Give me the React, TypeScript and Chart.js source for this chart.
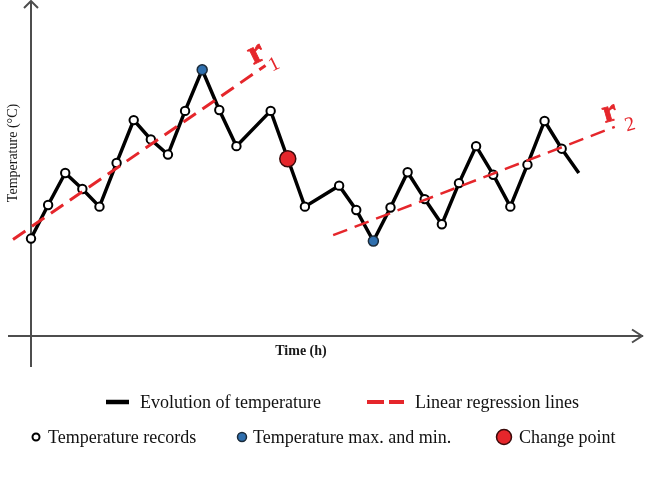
import React, { useEffect, useRef } from "react";
import Chart from "chart.js/auto";

// Hourly temperature record (time in h, temperature in arbitrary °C units)
const times = [0, 1, 2, 3, 4, 5, 6, 7, 8, 9, 10, 11, 12, 14, 15, 16, 18, 19, 20, 21, 22, 23, 24, 25, 26, 27, 28, 29, 30, 31, 32];
const temps = [5.8, 7.8, 9.7, 8.75, 7.7, 10.3, 12.85, 11.7, 10.8, 13.4, 15.85, 13.45, 11.3, 13.4, 10.55, 7.7, 8.95, 7.5, 5.65, 7.65, 9.75, 8.15, 6.65, 9.1, 11.3, 9.6, 7.7, 10.2, 12.8, 11.15, 9.7];

// Indices into the record for highlighted points
const extremaIdx = [10, 18];
const changeIdx = [14];
const unmarkedIdx = [30];

// Regression line end points [time, temperature]
const r1Times = [-1.05, 13.7];
const r1Temps = [5.75, 16.1];
const r2Times = [17.65, 34.1];
const r2Temps = [6.0, 12.45];

const regressionLabels = ["1", "2"];

const legendRow1 = ["Evolution of temperature", "Linear regression lines"];
const legendRow2 = ["Temperature records", "Temperature max. and min.", "Change point"];

const RED = "#e5262b";
const BLUE = "#2f6fae";
const AXIS = "#4d4d4d";
const SERIF = "'Liberation Serif', 'Times New Roman', serif";

const decorations = {
  id: "decorations",
  beforeDatasetsDraw(chart: any) {
    const ctx = chart.ctx;
    const xs = chart.scales.x;
    const ys = chart.scales.y;
    const x0 = xs.getPixelForValue(0);
    const y0 = ys.getPixelForValue(0);
    const xEnd = xs.right;
    const yTop = ys.top;
    ctx.save();
    ctx.strokeStyle = AXIS;
    ctx.lineWidth = 2;
    ctx.lineCap = "butt";
    // vertical axis
    ctx.beginPath();
    ctx.moveTo(x0, y0 + 31);
    ctx.lineTo(x0, yTop + 1);
    ctx.stroke();
    ctx.beginPath();
    ctx.moveTo(x0 - 7, yTop + 8);
    ctx.lineTo(x0, yTop + 1);
    ctx.lineTo(x0 + 7, yTop + 8);
    ctx.stroke();
    // horizontal axis
    ctx.beginPath();
    ctx.moveTo(x0 - 23, y0);
    ctx.lineTo(xEnd, y0);
    ctx.stroke();
    ctx.beginPath();
    ctx.moveTo(xEnd - 11, y0 - 6.5);
    ctx.lineTo(xEnd - 1, y0);
    ctx.lineTo(xEnd - 11, y0 + 6.5);
    ctx.stroke();

    // axis titles
    ctx.fillStyle = "#1a1a1a";
    ctx.textAlign = "center";
    ctx.textBaseline = "middle";
    ctx.font = `bold 14px ${SERIF}`;
    ctx.fillText("Time (h)", 301, y0 + 15);
    ctx.save();
    ctx.translate(13, 153);
    ctx.rotate(-Math.PI / 2);
    ctx.font = `14px ${SERIF}`;
    ctx.fillText("Temperature (°C)", 0, 0);
    ctx.restore();
    ctx.restore();
  },
  afterDatasetsDraw(chart: any) {
    const ctx = chart.ctx;
    const xs = chart.scales.x;
    const ys = chart.scales.y;
    const lines = [
      { t: r1Times, v: r1Temps, rOff: [-9, -11], sOff: [8, -2], rSize: 34 },
      { t: r2Times, v: r2Temps, rOff: [-5, -13], sOff: [15, -3], rSize: 32 },
    ];
    ctx.save();
    ctx.fillStyle = RED;
    ctx.strokeStyle = RED;
    ctx.lineWidth = 0.8;
    ctx.textAlign = "center";
    ctx.textBaseline = "alphabetic";
    lines.forEach((ln, i) => {
      const ax = xs.getPixelForValue(ln.t[0]);
      const ay = ys.getPixelForValue(ln.v[0]);
      const bx = xs.getPixelForValue(ln.t[1]);
      const by = ys.getPixelForValue(ln.v[1]);
      const ang = Math.atan2(by - ay, bx - ax) * 0.75;
      ctx.save();
      ctx.translate(bx + ln.rOff[0], by + ln.rOff[1]);
      ctx.rotate(ang);
      ctx.font = `bold ${ln.rSize}px ${SERIF}`;
      ctx.fillText("r", 0, ln.rSize * 0.23);
      ctx.strokeText("r", 0, ln.rSize * 0.23);
      ctx.restore();
      ctx.save();
      ctx.translate(bx + ln.sOff[0], by + ln.sOff[1]);
      ctx.rotate(ang);
      ctx.font = `20px ${SERIF}`;
      ctx.fillText(regressionLabels[i], 0, 20 * 0.33);
      ctx.restore();
    });
    ctx.restore();

    // legend
    ctx.save();
    ctx.textAlign = "left";
    ctx.textBaseline = "middle";
    ctx.font = `18px ${SERIF}`;
    ctx.fillStyle = "#111";
    const r1y = 403;
    const r2y = 438;
    ctx.strokeStyle = "#000";
    ctx.lineWidth = 4.5;
    ctx.beginPath();
    ctx.moveTo(106, r1y - 1);
    ctx.lineTo(129, r1y - 1);
    ctx.stroke();
    ctx.fillText(legendRow1[0], 140, r1y);
    ctx.strokeStyle = RED;
    ctx.lineWidth = 4;
    ctx.beginPath();
    ctx.moveTo(367, r1y - 1);
    ctx.lineTo(384, r1y - 1);
    ctx.moveTo(389, r1y - 1);
    ctx.lineTo(404, r1y - 1);
    ctx.stroke();
    ctx.fillText(legendRow1[1], 415, r1y);

    const marker = (cx: number, r: number, fill: string, stroke: string, w: number) => {
      ctx.beginPath();
      ctx.arc(cx, r2y - 1, r, 0, Math.PI * 2);
      ctx.fillStyle = fill;
      ctx.fill();
      ctx.strokeStyle = stroke;
      ctx.lineWidth = w;
      ctx.stroke();
    };
    marker(36, 3.5, "#fff", "#000", 2);
    marker(242, 4.5, BLUE, "#1b2b3a", 1.5);
    marker(504, 7.5, RED, "#3a0a0a", 1.5);
    ctx.fillStyle = "#111";
    ctx.fillText(legendRow2[0], 48, r2y);
    ctx.fillText(legendRow2[1], 253, r2y);
    ctx.fillText(legendRow2[2], 519, r2y);
    ctx.restore();
  },
};

export default function App() {
  const ref = useRef<HTMLCanvasElement | null>(null);
  useEffect(() => {
    if (!ref.current) return;
    const record = times.map((t, i) => ({ x: t, y: temps[i] }));
    const kindOf = (i: number) =>
      changeIdx.includes(i) ? "change" : extremaIdx.includes(i) ? "extreme" : unmarkedIdx.includes(i) ? "none" : "record";
    const chart = new Chart(ref.current, {
      type: "scatter",
      data: {
        datasets: [
          {
            label: "Linear regression r1",
            data: r1Times.map((t, i) => ({ x: t, y: r1Temps[i] })),
            showLine: true,
            borderColor: RED,
            borderWidth: 3,
            borderDash: [15, 8],
            pointRadius: 0,
            clip: false,
          } as any,
          {
            label: "Linear regression r2",
            data: r2Times.map((t, i) => ({ x: t, y: r2Temps[i] })),
            showLine: true,
            borderColor: RED,
            borderWidth: 2.5,
            borderDash: [15, 8],
            pointRadius: 0,
            clip: false,
          } as any,
          {
            label: "Evolution of temperature",
            data: record,
            showLine: true,
            borderColor: "#000",
            borderWidth: 3.5,
            tension: 0,
            clip: false,
            pointRadius: (c: any) => {
              const k = kindOf(c.dataIndex);
              return k === "change" ? 8 : k === "extreme" ? 5 : k === "none" ? 0 : 4.2;
            },
            pointBackgroundColor: (c: any) => {
              const k = kindOf(c.dataIndex);
              return k === "change" ? RED : k === "extreme" ? BLUE : "#fff";
            },
            pointBorderColor: (c: any) => {
              const k = kindOf(c.dataIndex);
              return k === "change" ? "#3a0a0a" : k === "extreme" ? "#1b2b3a" : "#000";
            },
            pointBorderWidth: (c: any) => {
              const k = kindOf(c.dataIndex);
              return k === "record" ? 2 : 1.5;
            },
          } as any,
        ],
      },
      options: {
        animation: false,
        responsive: false,
        layout: { autoPadding: false, padding: { left: 31, right: 6, top: 0, bottom: 151 } },
        plugins: { legend: { display: false }, tooltip: { enabled: false } },
        scales: {
          x: { type: "linear", min: 0, max: 35.75, display: false },
          y: { type: "linear", min: 0, max: 20, display: false },
        },
      },
      plugins: [decorations],
    });
    return () => chart.destroy();
  }, []);
  return (
    <div style={{ position: "absolute", left: 0, top: 0, width: 649, height: 487, background: "#fff" }}>
      <canvas ref={ref} width={649} height={487} />
    </div>
  );
}
